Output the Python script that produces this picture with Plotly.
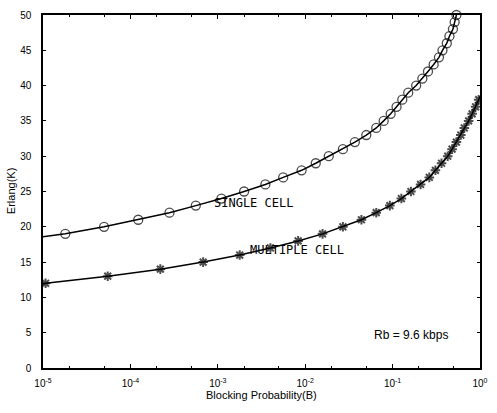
import plotly.graph_objects as go

# Single cell: Erlang K vs blocking probability B
single_K = [18.6, 19, 20, 21, 22, 23, 24, 25, 26, 27, 28, 29, 30, 31, 32, 33, 34,
            35, 36, 37, 38, 39, 40, 41, 42, 43, 44, 45, 46, 47, 48, 49, 50]
single_B = [1e-5, 1.8e-5, 5.0e-5, 1.23e-4, 2.8e-4, 5.6e-4, 1.1e-3, 2.0e-3, 3.5e-3,
            5.6e-3, 9.1e-3, 1.32e-2, 1.86e-2, 2.7e-2, 3.7e-2, 5.0e-2, 6.5e-2,
            7.9e-2, 9.5e-2, 0.111, 0.129, 0.151, 0.186, 0.219, 0.254, 0.295,
            0.339, 0.372, 0.417, 0.447, 0.49, 0.513, 0.537]

# Multiple cell
multi_K = [11.9, 12, 13, 14, 15, 16, 17, 18, 19, 20, 21, 22, 23, 24, 25, 26, 27,
           28, 29, 30, 31, 32, 33, 34, 35, 36, 37, 38, 38.5]
multi_B = [1e-5, 1.07e-5, 5.5e-5, 2.2e-4, 6.8e-4, 1.78e-3, 4.0e-3, 8.3e-3, 1.58e-2,
           2.7e-2, 4.4e-2, 6.5e-2, 9.3e-2, 0.126, 0.162, 0.209, 0.263, 0.309,
           0.363, 0.427, 0.479, 0.537, 0.603, 0.661, 0.741, 0.813, 0.891, 0.966, 1.0]

x_tickvals = [1e-5, 1e-4, 1e-3, 1e-2, 1e-1, 1]
x_ticktext = ["10<sup>-5</sup>", "10<sup>-4</sup>", "10<sup>-3</sup>",
              "10<sup>-2</sup>", "10<sup>-1</sup>", "10<sup>0</sup>"]
y_tickvals = [0, 5, 10, 15, 20, 25, 30, 35, 40, 45, 50]

FONT = "Liberation Sans"

fig = go.Figure()
fig.add_trace(go.Scatter(
    x=single_B, y=single_K, mode="lines+markers",
    line=dict(color="black", width=1.5),
    marker=dict(symbol="circle-open", size=[0] + [9] * (len(single_K) - 1),
                color="black", line=dict(width=1.3)),
    showlegend=False, cliponaxis=False))
fig.add_trace(go.Scatter(
    x=multi_B, y=multi_K, mode="lines+markers",
    line=dict(color="black", width=1.5),
    marker=dict(symbol="asterisk-open", size=[0] + [8] * (len(multi_K) - 2) + [0],
                color="black", line=dict(width=2, color="black")),
    showlegend=False, cliponaxis=True))

fig.update_xaxes(
    type="log", range=[-5, 0], tickvals=x_tickvals, ticktext=x_ticktext,
    ticks="inside", ticklen=4, tickcolor="black", showgrid=False, zeroline=False,
    showline=True, linecolor="black", linewidth=1.5, mirror="ticks",
    tickfont=dict(family=FONT, size=10, color="black"), ticklabelstandoff=5,
    minor=dict(ticks="inside", ticklen=2, tickcolor="black", showgrid=False),
)
fig.update_yaxes(
    range=[0, 50], tickvals=y_tickvals,
    ticks="inside", ticklen=3, tickcolor="black", showgrid=False, zeroline=False,
    showline=True, linecolor="black", linewidth=1.5, mirror="ticks",
    tickfont=dict(family=FONT, size=10, color="black"), ticklabelstandoff=8,
)

ann_font = dict(family="DejaVu Sans Mono", size=12, color="black")
common = dict(xref="paper", yref="paper", showarrow=False,
              xanchor="center", yanchor="middle")
fig.add_annotation(text="SINGLE CELL", x=0.481, y=0.467, font=ann_font, **common)
fig.add_annotation(text="MULTIPLE CELL", x=0.582, y=0.335, font=ann_font, **common)
fig.add_annotation(text="Rb = 9.6 kbps", x=0.843, y=0.093,
                   font=dict(family=FONT, size=12, color="black"), **common)
fig.add_annotation(text="Erlang(K)", x=-0.074, y=0.5, textangle=-90,
                   font=dict(family=FONT, size=11, color="black"), **common)
fig.add_annotation(text="Blocking Probability(B)", x=0.5, y=-0.076,
                   font=dict(family=FONT, size=11, color="black"), **common)

fig.update_layout(
    width=497, height=413, margin=dict(l=43, r=9, t=13, b=45),
    paper_bgcolor="white", plot_bgcolor="white",
)
fig.write_html("out.html")
